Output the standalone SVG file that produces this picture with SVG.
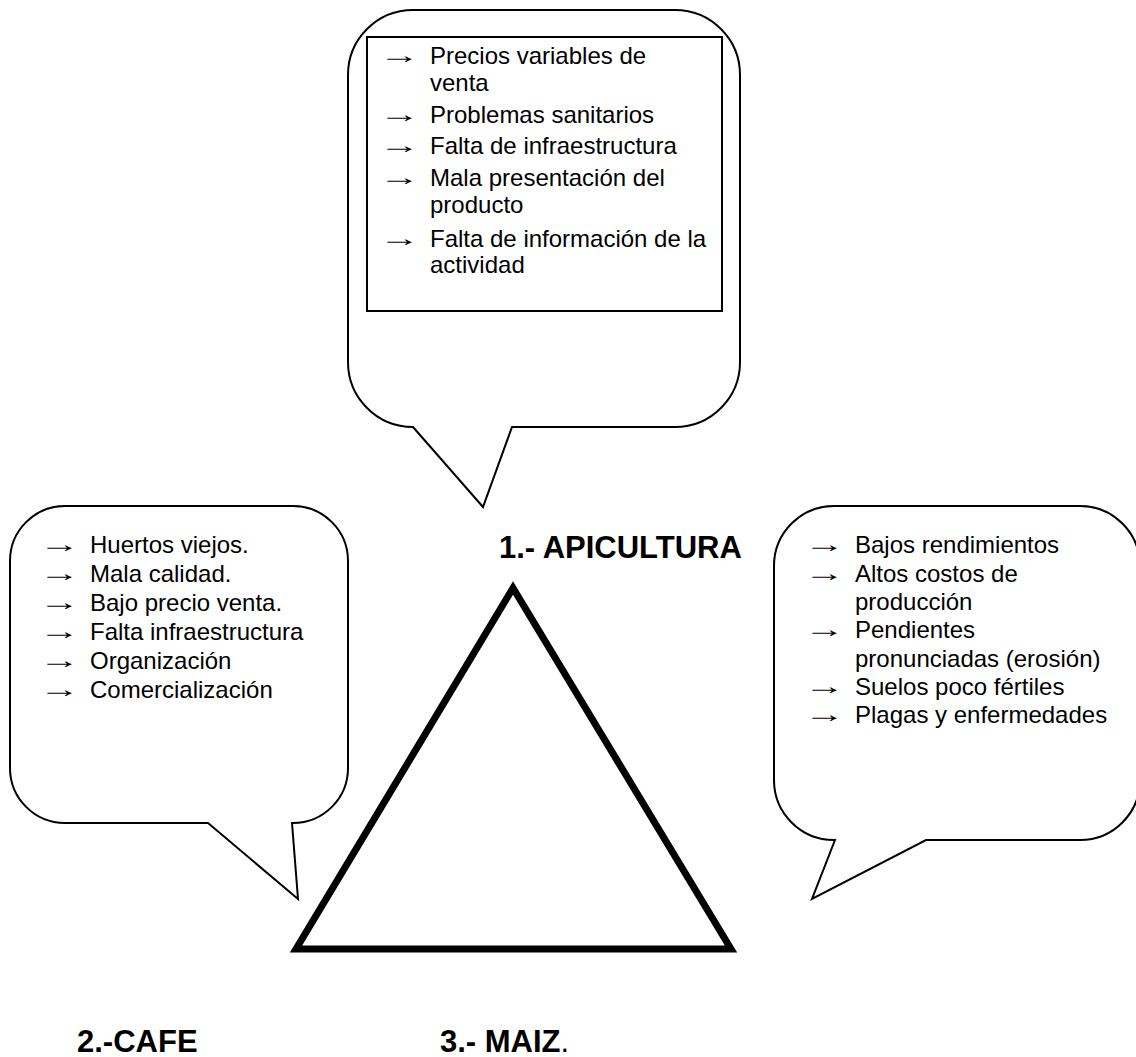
<svg xmlns="http://www.w3.org/2000/svg" width="1136" height="1057" viewBox="0 0 1136 1057">
  <style>
    .bubble { fill: #ffffff; stroke: #000000; stroke-width: 2; stroke-linejoin: miter; }
    .box { fill: none; stroke: #000000; stroke-width: 2; }
    .item { font-family: "Liberation Sans", Arial, sans-serif; font-size: 24px; fill: #000000; }
    .arrow { font-family: "Liberation Serif", "Times New Roman", serif; font-size: 24px; fill: #000000; }
    .title { font-family: "Liberation Sans", Arial, sans-serif; font-size: 31px; font-weight: bold; fill: #000000; }
    .plain { font-weight: normal; }
  </style>
  <rect width="1136" height="1057" fill="#ffffff"/>

  <!-- central triangle -->
  <g id="triangle">
    <polygon points="513,588 296,949 731,949" fill="none" stroke="#000000" stroke-width="7" stroke-linejoin="miter" stroke-miterlimit="10"/>
  </g>

  <!-- speech bubble above: beekeeping problems -->
  <g id="bubble-apicultura">
    <path class="bubble" d="M413,427 L483,507 L512,427 L675,427 A65,65 0 0 0 740,362 L740,75 A65,65 0 0 0 675,10 L413,10 A65,65 0 0 0 348,75 L348,362 A65,65 0 0 0 413,427 Z"/>
    <rect class="box" x="367" y="37" width="355" height="274"/>
    <text class="arrow" transform="translate(379,63) scale(1.7,1)">→</text>
    <text class="item" x="430" y="64">Precios variables de</text>
    <text class="item" x="430" y="91">venta</text>
    <text class="arrow" transform="translate(379,122) scale(1.7,1)">→</text>
    <text class="item" x="430" y="123">Problemas sanitarios</text>
    <text class="arrow" transform="translate(379,153) scale(1.7,1)">→</text>
    <text class="item" x="430" y="154">Falta de infraestructura</text>
    <text class="arrow" transform="translate(379,185) scale(1.7,1)">→</text>
    <text class="item" x="430" y="186">Mala presentación del</text>
    <text class="item" x="430" y="213">producto</text>
    <text class="arrow" transform="translate(379,246) scale(1.7,1)">→</text>
    <text class="item" x="430" y="247">Falta de información de la</text>
    <text class="item" x="430" y="273">actividad</text>
  </g>

  <!-- speech bubble left: coffee problems -->
  <g id="bubble-cafe">
    <path class="bubble" d="M292,823 L298,899 L208,823 L65,823 A55,55 0 0 1 10,768 L10,561 A55,55 0 0 1 65,506 L293,506 A55,55 0 0 1 348,561 L348,768 A55,55 0 0 1 293,823 Z"/>
    <text class="arrow" transform="translate(39,552) scale(1.7,1)">→</text>
    <text class="item" x="90" y="553">Huertos viejos.</text>
    <text class="arrow" transform="translate(39,581) scale(1.7,1)">→</text>
    <text class="item" x="90" y="582">Mala calidad.</text>
    <text class="arrow" transform="translate(39,610) scale(1.7,1)">→</text>
    <text class="item" x="90" y="611">Bajo precio venta.</text>
    <text class="arrow" transform="translate(39,639) scale(1.7,1)">→</text>
    <text class="item" x="90" y="640">Falta infraestructura</text>
    <text class="arrow" transform="translate(39,668) scale(1.7,1)">→</text>
    <text class="item" x="90" y="669">Organización</text>
    <text class="arrow" transform="translate(39,697) scale(1.7,1)">→</text>
    <text class="item" x="90" y="698">Comercialización</text>
  </g>

  <!-- speech bubble right: maize problems -->
  <g id="bubble-maiz">
    <path class="bubble" d="M835,840 L812,899 L926,840 L1080,840 A60,60 0 0 0 1140,780 L1140,566 A60,60 0 0 0 1080,506 L834,506 A60,60 0 0 0 774,566 L774,780 A60,60 0 0 0 834,840 Z"/>
    <text class="arrow" transform="translate(804,552) scale(1.7,1)">→</text>
    <text class="item" x="855" y="553">Bajos rendimientos</text>
    <text class="arrow" transform="translate(804,581) scale(1.7,1)">→</text>
    <text class="item" x="855" y="582">Altos costos de</text>
    <text class="item" x="855" y="610">producción</text>
    <text class="arrow" transform="translate(804,637) scale(1.7,1)">→</text>
    <text class="item" x="855" y="638">Pendientes</text>
    <text class="item" x="855" y="667">pronunciadas (erosión)</text>
    <text class="arrow" transform="translate(804,694) scale(1.7,1)">→</text>
    <text class="item" x="855" y="695">Suelos poco fértiles</text>
    <text class="arrow" transform="translate(804,722) scale(1.7,1)">→</text>
    <text class="item" x="855" y="723">Plagas y enfermedades</text>
  </g>

  <!-- vertex labels -->
  <g id="label-apicultura">
    <text class="title" x="499" y="558">1.- APICULTURA</text>
  </g>
  <g id="label-cafe">
    <text class="title" x="77" y="1052">2.-CAFE</text>
  </g>
  <g id="label-maiz">
    <text class="title" x="440" y="1052">3.- MAIZ<tspan class="plain">.</tspan></text>
  </g>

  <!-- no connectors in this figure; the bubble tails are part of each bubble -->
  <g id="connectors"/>
</svg>
